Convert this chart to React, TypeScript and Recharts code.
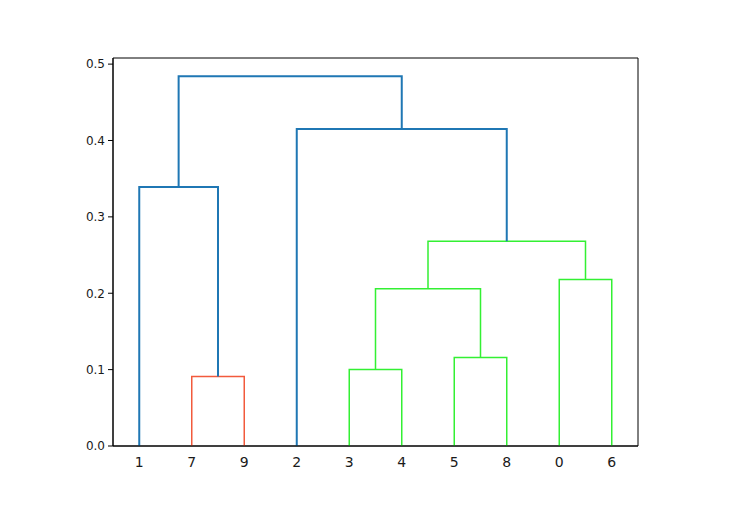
import React from 'react';
import { LineChart, Line, XAxis, YAxis, ReferenceArea } from 'recharts';

// Leaf order as it appears along the x axis
const leafLabels = ['1', '7', '9', '2', '3', '4', '5', '8', '0', '6'];
const leafPositions = [5, 15, 25, 35, 45, 55, 65, 75, 85, 95];

// U-shaped links, same layout as scipy dendrogram's icoord/dcoord
const icoord = [
  [15, 15, 25, 25],
  [5, 5, 20, 20],
  [45, 45, 55, 55],
  [65, 65, 75, 75],
  [50, 50, 70, 70],
  [85, 85, 95, 95],
  [60, 60, 90, 90],
  [35, 35, 75, 75],
  [12.5, 12.5, 55, 55],
];
const dcoord = [
  [0, 0.091, 0.091, 0],
  [0, 0.339, 0.339, 0.091],
  [0, 0.1, 0.1, 0],
  [0, 0.116, 0.116, 0],
  [0.1, 0.206, 0.206, 0.116],
  [0, 0.218, 0.218, 0],
  [0.206, 0.268, 0.268, 0.218],
  [0, 0.415, 0.415, 0.268],
  [0.339, 0.484, 0.484, 0.415],
];
const linkColors = ['red', 'blue', 'green', 'green', 'green', 'green', 'green', 'blue', 'blue'];

const yTicks = [0, 0.1, 0.2, 0.3, 0.4, 0.5];
const yMax = 0.508;

const COLORS: Record<string, string> = {
  blue: '#1f77b4',
  red: '#f25a3c',
  green: '#33f033',
};

const App: React.FC = () => {
  const links = icoord.map((xs, i) =>
    xs.map((x, j) => ({ x, y: dcoord[i][j] }))
  );

  return (
    <div style={{ position: 'absolute', left: 0, top: 0, background: '#fff' }}>
      <LineChart
        width={729}
        height={514}
        margin={{ top: 58, right: 91, left: 63, bottom: 38 }}
      >
        <XAxis
          type="number"
          dataKey="x"
          domain={[0, 100]}
          ticks={leafPositions}
          tickFormatter={(v: number) => leafLabels[leafPositions.indexOf(v)] ?? ''}
          tickLine={false}
          axisLine={{ stroke: '#000', strokeWidth: 1 }}
          tick={{ fill: '#1a1a1a', fontSize: 14, fontFamily: 'DejaVu Sans' }}
          height={30}
          tickMargin={5}
          allowDataOverflow
        />
        <YAxis
          type="number"
          dataKey="y"
          domain={[0, yMax]}
          ticks={yTicks}
          tickFormatter={(v: number) => v.toFixed(1)}
          tickSize={5}
          tickLine={{ stroke: '#000' }}
          axisLine={{ stroke: '#000', strokeWidth: 1 }}
          tick={{ fill: '#1a1a1a', fontSize: 12, fontFamily: 'DejaVu Sans' }}
          width={50}
          tickMargin={3}
          allowDataOverflow
        />
        <ReferenceArea
          x1={0}
          x2={100}
          y1={0}
          y2={yMax}
          fill="none"
          stroke="#000"
          strokeWidth={1}
        />
        {links.map((pts, i) => (
          <Line
            key={`link-${i}`}
            data={pts}
            dataKey="y"
            type="linear"
            stroke={COLORS[linkColors[i]]}
            strokeWidth={linkColors[i] === 'blue' ? 2 : 1.5}
            dot={false}
            activeDot={false}
            isAnimationActive={false}
          />
        ))}
      </LineChart>
    </div>
  );
};

export default App;
